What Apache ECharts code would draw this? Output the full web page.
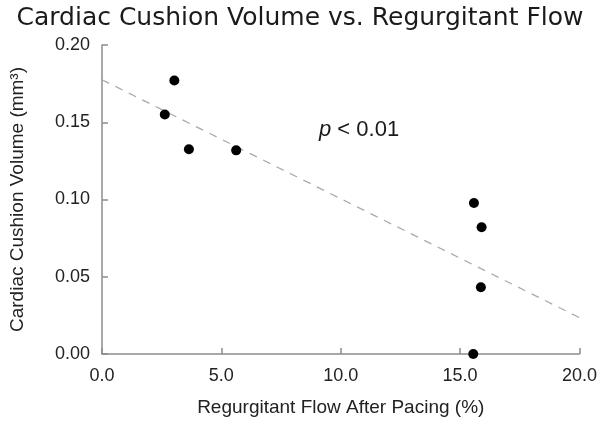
<!DOCTYPE html>
<html><head><meta charset="utf-8">
<script src="https://cdn.jsdelivr.net/npm/echarts@6/dist/echarts.min.js"></script>
<style>html,body{margin:0;padding:0;background:#fff}#c{width:600px;height:424px}</style>
</head><body><div id="c"></div>
<script>
var flowX = [3.03, 2.63, 3.64, 5.62, 15.58, 15.90, 15.87, 15.55];
var volumeY = [0.177, 0.155, 0.1325, 0.1318, 0.0977, 0.082, 0.0432, 0.0];
var fitX = [0, 20];
var fitY = [0.1775, 0.0235];
var xTicks = ['0.0', '5.0', '10.0', '15.0', '20.0'];
var yTicks = ['0.00', '0.05', '0.10', '0.15', '0.20'];

var chart = echarts.init(document.getElementById('c'));
var axisCol = '#8c8c8c';
chart.setOption({
  animation: false,
  backgroundColor: '#fff',
  title: {
    text: 'Cardiac Cushion Volume vs. Regurgitant Flow',
    left: 'center', top: 1,
    textStyle: {fontFamily: 'DejaVu Sans', fontSize: 25, fontWeight: 'normal', color: '#1a1a1a'}
  },
  grid: {left: 97, right: 19, top: 45, bottom: 70},
  xAxis: {
    type: 'value', min: 0, max: 20, interval: 5,
    name: 'Regurgitant Flow After Pacing (%)', nameLocation: 'middle', nameGap: 44,
    nameTextStyle: {fontFamily: 'Liberation Sans', fontSize: 19, color: '#222'},
    axisLine: {show: true, lineStyle: {color: axisCol, width: 1.5}},
    axisTick: {show: true, inside: true, length: 6, lineStyle: {color: axisCol, width: 1.5}},
    axisLabel: {fontFamily: 'Liberation Sans', fontSize: 18, color: '#222', margin: 13,
      formatter: function (v) { return xTicks[Math.round(v / 5)]; }},
    splitLine: {show: false}
  },
  yAxis: {
    type: 'value', min: 0, max: 0.2, interval: 0.05,
    name: 'Cardiac Cushion Volume (mm³)', nameLocation: 'middle', nameGap: 75,
    nameTextStyle: {fontFamily: 'Liberation Sans', fontSize: 19, color: '#222'},
    axisLine: {show: true, lineStyle: {color: axisCol, width: 1.5}},
    axisTick: {show: true, inside: true, length: 6, lineStyle: {color: axisCol, width: 1.5}},
    axisLabel: {fontFamily: 'Liberation Sans', fontSize: 18, color: '#222', margin: 12,
      formatter: function (v) { return yTicks[Math.round(v / 0.05)]; }},
    splitLine: {show: false}
  },
  graphic: [{
    type: 'text', left: 319, top: 119,
    style: {
      rich: {i: {fontStyle: 'italic', fontFamily: 'Liberation Sans', fontSize: 22, fill: '#1a1a1a'},
             n: {fontFamily: 'Liberation Sans', fontSize: 22, fill: '#1a1a1a'}},
      text: '{i|p}{n| < 0.01}'
    }
  }],
  series: [{
    type: 'line', data: fitX.map(function (x, i) { return [x, fitY[i]]; }),
    symbol: 'none', lineStyle: {color: '#aaa', width: 1.3, type: [8, 7]}, z: 1
  }, {
    type: 'scatter', data: flowX.map(function (x, i) { return [x, volumeY[i]]; }),
    symbolSize: 10, itemStyle: {color: '#000', opacity: 1}, z: 3
  }]
});
</script></body></html>
